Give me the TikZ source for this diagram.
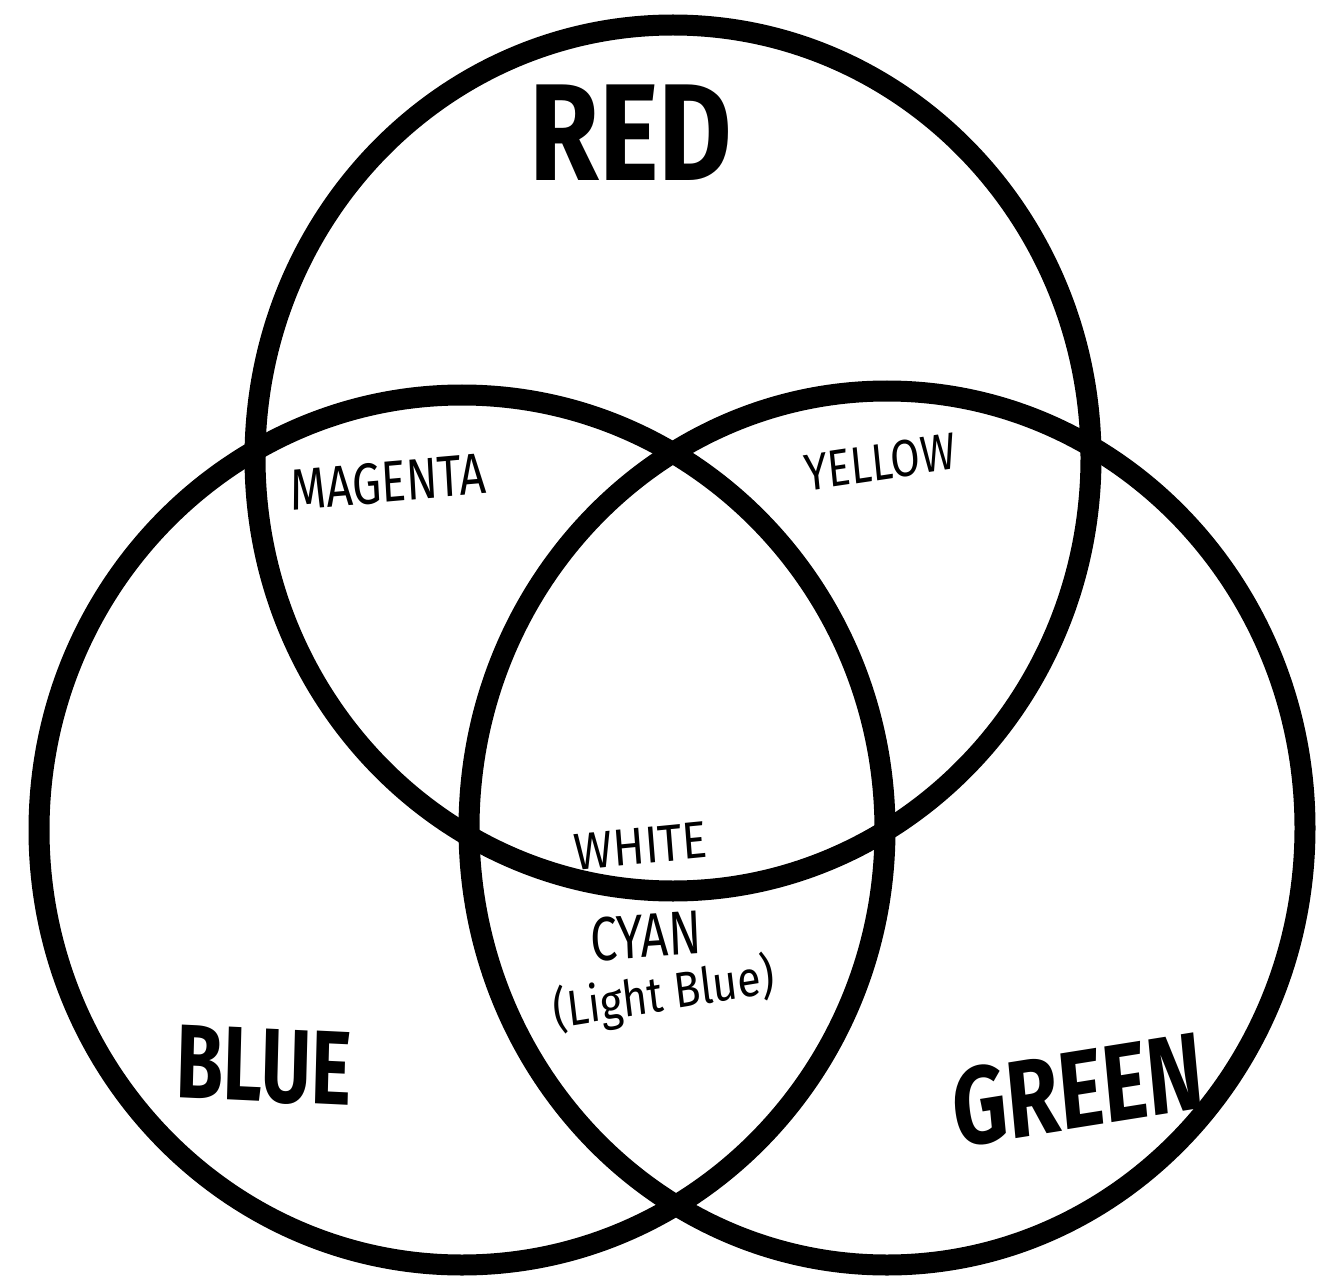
\documentclass[tikz,border=0pt]{standalone}
\usepackage{fontspec}
\setmainfont{Fira Sans}
\begin{document}
\begin{tikzpicture}[x=1pt,y=-1pt,
  ring/.style={draw=black,line width=21pt},
  biglabel/.style={font=\fontsize{#1}{#1}\selectfont\bfseries,inner sep=0pt},
  smalllabel/.style={font=\fontsize{#1}{#1}\selectfont,inner sep=0pt}]
\useasboundingbox[fill=white] (0,0) rectangle (1323,1281);
% circles
\coordinate (redc) at (673,458);
\coordinate (bluec) at (462,830);
\coordinate (greenc) at (887,828);
\draw[ring] (redc) ellipse [x radius=418, y radius=433];
\draw[ring] (bluec) ellipse [x radius=423, y radius=435];
\draw[ring] (greenc) ellipse [x radius=418, y radius=437];
% labels
\node[biglabel=138, xscale=0.82] (red) at (631,133) {RED};
\node[biglabel=105, xscale=0.73, rotate=-2] (blue) at (264,1066) {BLUE};
\node[biglabel=110, xscale=0.77, rotate=7] (green) at (1078,1090) {GREEN};
\node[smalllabel=58, xscale=0.8, rotate=4] (magenta) at (388,482) {MAGENTA};
\node[smalllabel=52, xscale=0.82, rotate=7] (yellow) at (880,462) {YELLOW};
\node[smalllabel=52, xscale=0.9, rotate=5] (white) at (641,846) {WHITE};
\node[smalllabel=62, xscale=0.78, rotate=3] (cyan) at (646,936) {CYAN};
\node[smalllabel=50, xscale=0.86, rotate=8] (light) at (664,995) {(Light Blue)};
\end{tikzpicture}
\end{document}
